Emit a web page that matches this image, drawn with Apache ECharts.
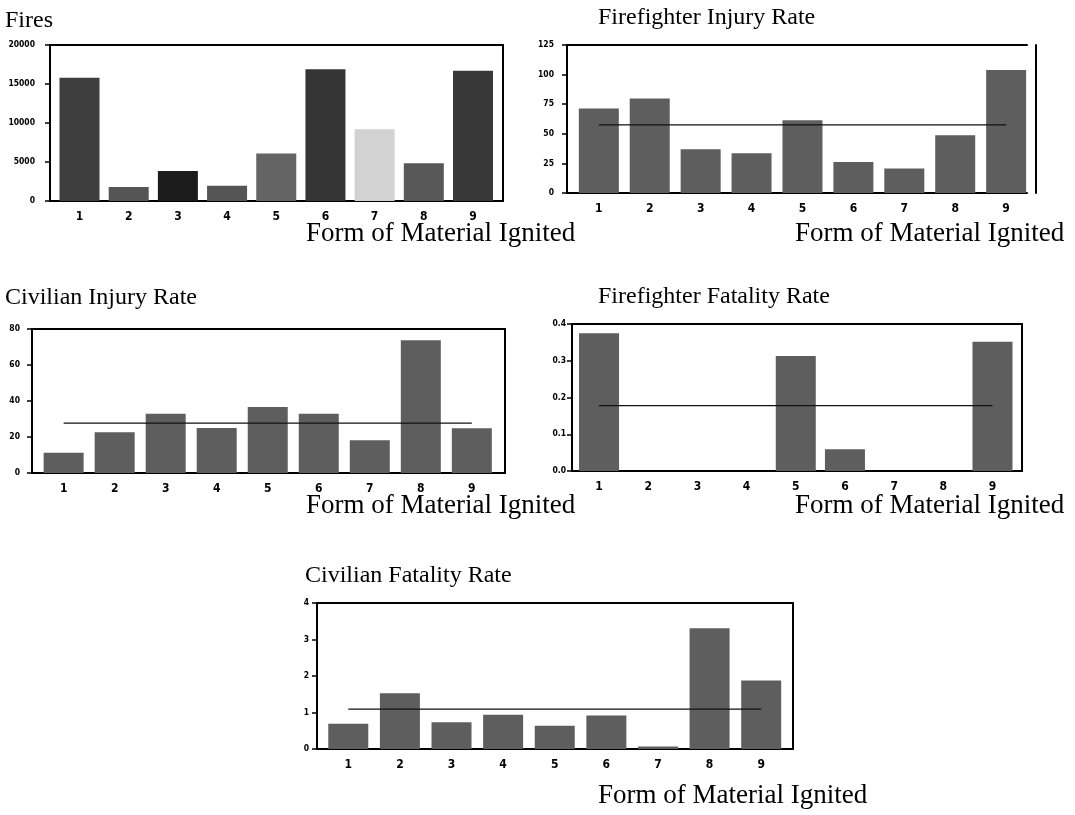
<!DOCTYPE html>
<html>
<head>
<meta charset="utf-8">
<script src="https://cdn.jsdelivr.net/npm/echarts@6/dist/echarts.min.js"></script>
<style>
html,body{margin:0;padding:0;background:#fff;}
#chart{width:1075px;height:815px;}
</style>
</head>
<body>
<div id="chart"></div>
<script>
// ---- data ----
const categories = [1, 2, 3, 4, 5, 6, 7, 8, 9];
const xAxisTitle = 'Form of Material Ignited';

const firesTitle = 'Fires';
const firesValues = [15800, 1800, 3850, 1950, 6100, 16900, 9200, 4850, 16700];
const firesTicks = [0, 5000, 10000, 15000, 20000];

const ffInjuryTitle = 'Firefighter Injury Rate';
const ffInjuryValues = [71.4, 79.9, 37.0, 33.6, 61.5, 26.2, 20.6, 48.8, 103.8];
const ffInjuryAverage = 57.5;
const ffInjuryTicks = [0, 25, 50, 75, 100, 125];

const civInjuryTitle = 'Civilian Injury Rate';
const civInjuryValues = [11.3, 22.6, 32.9, 25.0, 36.7, 32.9, 18.2, 73.8, 24.9];
const civInjuryAverage = 27.7;
const civInjuryTicks = [0, 20, 40, 60, 80];

const ffFatalityTitle = 'Firefighter Fatality Rate';
const ffFatalityValues = [0.375, 0, 0, 0, 0.313, 0.059, 0, 0, 0.352];
const ffFatalityAverage = 0.178;
const ffFatalityTicks = ['0.0', '0.1', '0.2', '0.3', '0.4'];

const civFatalityTitle = 'Civilian Fatality Rate';
const civFatalityValues = [0.69, 1.53, 0.73, 0.94, 0.64, 0.92, 0.07, 3.31, 1.88];
const civFatalityAverage = 1.09;
const civFatalityTicks = [0, 1, 2, 3, 4];

// ---- styling / layout ----
const firesColors = ['#3e3e3e', '#555555', '#1c1c1c', '#555555', '#646464', '#353535', '#d2d2d2', '#585858', '#383838'];
const barGray = '#5e5e5e';
const serif = '"Liberation Serif","Times New Roman",serif';
const tickFont = '"Liberation Sans Narrow","DejaVu Sans Condensed","Liberation Sans",sans-serif';
const titleSize = 24;
const nameSize = 27;

const panels = [
  {title: firesTitle, values: firesValues, ticks: firesTicks, avg: null, colors: firesColors,
   grid: {left: 50, top: 45, width: 453, height: 156}, xmin: 0.40, xmax: 9.61, rightOffset: 0, yMargin: 15,
   titlePos: {left: 5, top: 9}, namePos: {left: 306, top: 220}},
  {title: ffInjuryTitle, values: ffInjuryValues, ticks: ffInjuryTicks, avg: ffInjuryAverage,
   grid: {left: 567, top: 45, width: 460, height: 148}, xmin: 0.375, xmax: 9.41, rightOffset: 9, yMargin: 13,
   titlePos: {left: 598, top: 6}, namePos: {left: 795, top: 220}},
  {title: civInjuryTitle, values: civInjuryValues, ticks: civInjuryTicks, avg: civInjuryAverage,
   grid: {left: 32, top: 329, width: 473, height: 144}, xmin: 0.38, xmax: 9.65, rightOffset: 0, yMargin: 12,
   titlePos: {left: 5, top: 286}, namePos: {left: 306, top: 492}},
  {title: ffFatalityTitle, values: ffFatalityValues, ticks: ffFatalityTicks, avg: ffFatalityAverage,
   grid: {left: 572, top: 324, width: 450, height: 147}, xmin: 0.45, xmax: 9.6, rightOffset: 0, yMargin: 6,
   titlePos: {left: 598, top: 285}, namePos: {left: 795, top: 492}},
  {title: civFatalityTitle, values: civFatalityValues, ticks: civFatalityTicks, avg: civFatalityAverage,
   grid: {left: 317, top: 603, width: 476, height: 146}, xmin: 0.394, xmax: 9.616, rightOffset: 0, yMargin: 8,
   titlePos: {left: 305, top: 564}, namePos: {left: 598, top: 782}}
];

const option = {
  backgroundColor: '#ffffff',
  animation: false,
  title: [], grid: [], xAxis: [], yAxis: [], series: []
};

const lineStyle = {color: '#000', width: 2};

panels.forEach((p, i) => {
  option.title.push({text: p.title, left: p.titlePos.left, top: p.titlePos.top, padding: 0,
    textStyle: {fontFamily: serif, fontSize: titleSize, fontWeight: 'normal', color: '#000'}});
  option.title.push({text: xAxisTitle, left: p.namePos.left, top: p.namePos.top, padding: 0,
    textStyle: {fontFamily: serif, fontSize: nameSize, fontWeight: 'normal', color: '#000'}});
  option.grid.push(Object.assign({containLabel: false}, p.grid));
  const numTicks = p.ticks.map(Number);
  const ymax = numTicks[numTicks.length - 1];
  const yint = numTicks[1] - numTicks[0];
  // bottom axis with category labels
  option.xAxis.push({gridIndex: i, type: 'value', min: p.xmin, max: p.xmax, position: 'bottom',
    axisLine: {show: true, onZero: false, lineStyle: lineStyle},
    axisTick: {show: false},
    splitLine: {show: false},
    axisLabel: {customValues: categories, margin: 10, fontFamily: tickFont, fontWeight: 'bold', fontSize: 12, color: '#000'}
  });
  // top frame line
  option.xAxis.push({gridIndex: i, type: 'value', min: p.xmin, max: p.xmax, position: 'top',
    axisLine: {show: true, onZero: false, lineStyle: lineStyle},
    axisTick: {show: false}, axisLabel: {show: false}, splitLine: {show: false}
  });
  // left value axis
  option.yAxis.push({gridIndex: i, type: 'value', min: 0, max: ymax, interval: yint, position: 'left',
    axisLine: {show: true, onZero: false, lineStyle: lineStyle},
    axisTick: {show: true, length: 5, lineStyle: {color: '#000', width: 1.5}},
    splitLine: {show: false},
    axisLabel: {margin: p.yMargin, fontFamily: tickFont, fontWeight: 'bold', fontSize: 8.5, color: '#000',
      formatter: (v) => {
        const idx = numTicks.findIndex(t => Math.abs(t - v) < 1e-9);
        return idx >= 0 ? String(p.ticks[idx]) : '';
      }}
  });
  // right frame line
  option.yAxis.push({gridIndex: i, type: 'value', min: 0, max: ymax, position: 'right', offset: p.rightOffset,
    axisLine: {show: true, onZero: false, lineStyle: {color: '#000', width: 2}},
    axisTick: {show: false}, axisLabel: {show: false}, splitLine: {show: false}
  });
  option.series.push({type: 'bar', xAxisIndex: 2 * i, yAxisIndex: 2 * i, barWidth: 40,
    data: categories.map((c, k) => ({value: [c, p.values[k]],
      itemStyle: {color: p.colors ? p.colors[k] : barGray}})),
    z: 2
  });
  if (p.avg !== null) {
    option.series.push({type: 'line', xAxisIndex: 2 * i, yAxisIndex: 2 * i, symbol: 'none',
      data: [[categories[0], p.avg], [categories[categories.length - 1], p.avg]],
      lineStyle: {color: '#111', width: 1.3}, z: 5
    });
  }
});

const chart = echarts.init(document.getElementById('chart'), null, {renderer: 'canvas'});
chart.setOption(option);
</script>
</body>
</html>
